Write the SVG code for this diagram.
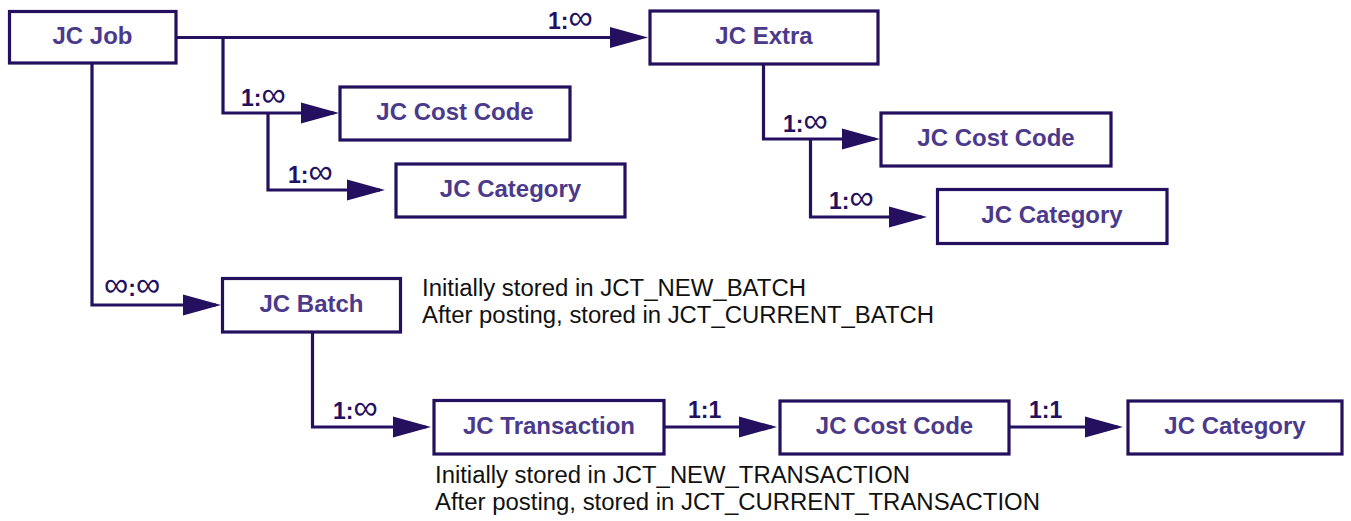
<svg xmlns="http://www.w3.org/2000/svg" width="1351" height="521" viewBox="0 0 1351 521">
<style>
.box{fill:#fff;stroke:#24105e;stroke-width:3.2}
.nt{font-family:"Liberation Sans",Arial,sans-serif;font-weight:bold;font-size:24px;fill:#4b3a8b;text-anchor:middle}
.cn{fill:none;stroke:#24105e;stroke-width:3.2}
.lb{font-family:"Liberation Sans",Arial,sans-serif;font-weight:bold;font-size:23px;fill:#24105e}
.inf{font-family:"Liberation Sans",Arial,sans-serif;font-weight:normal;font-size:34px}
.pt{font-family:"Liberation Sans",Arial,sans-serif;font-size:23.5px;fill:#111}
</style>
<defs>
<marker id="ah" markerUnits="userSpaceOnUse" markerWidth="40" markerHeight="24" refX="33" refY="11" orient="auto" viewBox="0 0 40 24">
<path d="M0,0.5 L38,11 L0,21.5 z" fill="#24105e"/>
</marker>
</defs>
<g id="connectors">
<path class="cn" d="M176,37.5 H643" marker-end="url(#ah)"/>
<path class="cn" d="M223,37.5 V113 H334" marker-end="url(#ah)"/>
<path class="cn" d="M268,113 V190 H380" marker-end="url(#ah)"/>
<path class="cn" d="M92,63 V305 H216" marker-end="url(#ah)"/>
<path class="cn" d="M763.5,64 V139 H875" marker-end="url(#ah)"/>
<path class="cn" d="M810.5,139 V217 H922" marker-end="url(#ah)"/>
<path class="cn" d="M312.5,332 V427 H426" marker-end="url(#ah)"/>
<path class="cn" d="M664,427 H772" marker-end="url(#ah)"/>
<path class="cn" d="M1009,427 H1118" marker-end="url(#ah)"/>
<text class="lb" x="548" y="29">1:<tspan class="inf">∞</tspan></text>
<text class="lb" x="241" y="106">1:<tspan class="inf">∞</tspan></text>
<text class="lb" x="288" y="183">1:<tspan class="inf">∞</tspan></text>
<text class="lb" x="104" y="296"><tspan class="inf">∞</tspan>:<tspan class="inf">∞</tspan></text>
<text class="lb" x="783" y="132">1:<tspan class="inf">∞</tspan></text>
<text class="lb" x="829" y="209">1:<tspan class="inf">∞</tspan></text>
<text class="lb" x="333" y="419">1:<tspan class="inf">∞</tspan></text>
<text class="lb" x="688" y="418">1:1</text>
<text class="lb" x="1029" y="418">1:1</text>
</g>
<g id="jc-job"><rect class="box" x="9.5" y="11.5" width="166.5" height="51.5"/><text class="nt" x="92.5" y="44">JC Job</text></g>
<g id="jc-extra"><rect class="box" x="650" y="11" width="228" height="53"/><text class="nt" x="764" y="44">JC Extra</text></g>
<g id="jc-cost-code-1"><rect class="box" x="340" y="87" width="230" height="53"/><text class="nt" x="455" y="120">JC Cost Code</text></g>
<g id="jc-category-1"><rect class="box" x="396" y="164" width="229" height="53"/><text class="nt" x="510.5" y="197">JC Category</text></g>
<g id="jc-cost-code-2"><rect class="box" x="881" y="113" width="230" height="53"/><text class="nt" x="996" y="146">JC Cost Code</text></g>
<g id="jc-category-2"><rect class="box" x="937.5" y="189.5" width="229.5" height="54"/><text class="nt" x="1052" y="223">JC Category</text></g>
<g id="jc-batch"><rect class="box" x="222.5" y="278.5" width="178" height="53.5"/><text class="nt" x="311.5" y="312">JC Batch</text></g>
<g id="jc-transaction"><rect class="box" x="434" y="400.5" width="230" height="53.5"/><text class="nt" x="549" y="434">JC Transaction</text></g>
<g id="jc-cost-code-3"><rect class="box" x="780" y="401" width="229" height="53"/><text class="nt" x="894.5" y="434">JC Cost Code</text></g>
<g id="jc-category-3"><rect class="box" x="1128" y="401" width="214" height="53"/><text class="nt" x="1235" y="434">JC Category</text></g>
<g id="notes">
<text class="pt" x="422" y="296" textLength="384" lengthAdjust="spacingAndGlyphs">Initially stored in JCT_NEW_BATCH</text>
<text class="pt" x="422" y="323" textLength="512" lengthAdjust="spacingAndGlyphs">After posting, stored in JCT_CURRENT_BATCH</text>
<text class="pt" x="435" y="483" textLength="475" lengthAdjust="spacingAndGlyphs">Initially stored in JCT_NEW_TRANSACTION</text>
<text class="pt" x="435" y="510" textLength="605" lengthAdjust="spacingAndGlyphs">After posting, stored in JCT_CURRENT_TRANSACTION</text>
</g>
</svg>
